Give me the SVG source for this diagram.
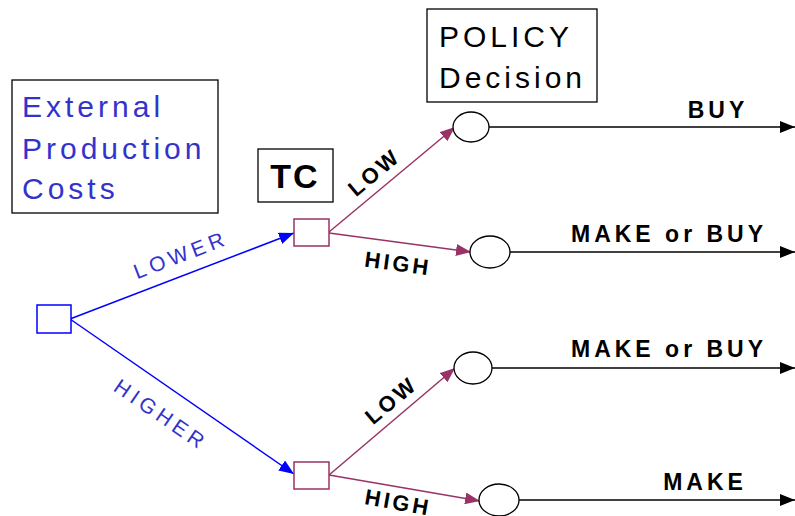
<svg xmlns="http://www.w3.org/2000/svg" width="795" height="516" viewBox="0 0 795 516">
<style>
.box{fill:#fff;stroke:#000;stroke-width:1.3}
.blueT{font-family:"Liberation Sans",Arial,sans-serif;fill:#3333cc;font-size:30px;letter-spacing:4px}
.blackT{font-family:"Liberation Sans",Arial,sans-serif;fill:#000;font-size:30px;letter-spacing:4px}
.blab{font-family:"Liberation Sans",Arial,sans-serif;fill:#3333cc;font-size:21px;letter-spacing:4.5px}
.plab{font-family:"Liberation Sans",Arial,sans-serif;fill:#000;font-size:22px;font-weight:bold;letter-spacing:3px}
.olab{font-family:"Liberation Sans",Arial,sans-serif;fill:#000;font-size:23px;font-weight:bold;letter-spacing:4px}
.bl{stroke:#0000ff;stroke-width:1.5;fill:none}
.pl{stroke:#993366;stroke-width:1.5;fill:none}
.kl{stroke:#000;stroke-width:1.5;fill:none}
.circ{fill:#fff;stroke:#000;stroke-width:1.3}
</style>
<defs>
<marker id="ab" markerUnits="userSpaceOnUse" markerWidth="16" markerHeight="12" refX="15" refY="6" orient="auto"><path d="M0,0 L15,6 L0,12 z" fill="#0000ff"/></marker>
<marker id="ap" markerUnits="userSpaceOnUse" markerWidth="16" markerHeight="12" refX="15" refY="6" orient="auto"><path d="M0,0 L15,6 L0,12 z" fill="#993366"/></marker>
<marker id="ak" markerUnits="userSpaceOnUse" markerWidth="16" markerHeight="12" refX="15" refY="6" orient="auto"><path d="M0,0 L15,6 L0,12 z" fill="#000"/></marker>
</defs>

<g id="label-external">
<rect class="box" x="12" y="80" width="206" height="133"/>
<text class="blueT" x="22" y="117">External</text>
<text class="blueT" x="22" y="159">Production</text>
<text class="blueT" x="22" y="199">Costs</text>
</g>
<g id="label-tc">
<rect class="box" x="258" y="149" width="75" height="53"/>
<text x="295" y="188" text-anchor="middle" style="font-family:'Liberation Sans',Arial,sans-serif;font-size:34px;font-weight:bold;letter-spacing:2px">TC</text>
</g>
<g id="label-policy">
<rect class="box" x="427" y="9" width="170" height="93"/>
<text class="blackT" x="439" y="47">POLICY</text>
<text class="blackT" x="439" y="88">Decision</text>
</g>

<g id="connectors">
<line class="bl" x1="70" y1="319" x2="294" y2="233" marker-end="url(#ab)"/>
<line class="bl" x1="70" y1="319" x2="294" y2="474" marker-end="url(#ab)"/>
<line class="pl" x1="329" y1="232" x2="455" y2="127" marker-end="url(#ap)"/>
<line class="pl" x1="329" y1="233" x2="471" y2="252" marker-end="url(#ap)"/>
<line class="pl" x1="329" y1="475" x2="455" y2="368" marker-end="url(#ap)"/>
<line class="pl" x1="329" y1="475" x2="480" y2="501" marker-end="url(#ap)"/>
<line class="kl" x1="489" y1="127" x2="795" y2="127" marker-end="url(#ak)"/>
<line class="kl" x1="510" y1="252" x2="795" y2="252" marker-end="url(#ak)"/>
<line class="kl" x1="492" y1="368" x2="795" y2="368" marker-end="url(#ak)"/>
<line class="kl" x1="519" y1="500" x2="795" y2="500" marker-end="url(#ak)"/>
<text class="blab" text-anchor="middle" x="181" y="262" transform="rotate(-21 181 255)">LOWER</text>
<text class="blab" text-anchor="middle" x="161" y="422" transform="rotate(34.5 161 415)">HIGHER</text>
<text class="plab" text-anchor="middle" x="374" y="180" transform="rotate(-40 374 172)">LOW</text>
<text class="plab" text-anchor="middle" x="398" y="271" transform="rotate(7.7 398 263)">HIGH</text>
<text class="plab" text-anchor="middle" x="391" y="408" transform="rotate(-40 391 400)">LOW</text>
<text class="plab" text-anchor="middle" x="398" y="510" transform="rotate(10 398 503)">HIGH</text>
<text class="olab" text-anchor="middle" x="718" y="118">BUY</text>
<text class="olab" text-anchor="middle" x="669" y="242">MAKE or BUY</text>
<text class="olab" text-anchor="middle" x="669" y="357">MAKE or BUY</text>
<text class="olab" text-anchor="middle" x="705" y="490">MAKE</text>
</g>

<g id="root">
<rect x="37" y="305" width="34" height="28" fill="#fff" stroke="#0000ff" stroke-width="1.5"/>
</g>
<g id="tc-upper">
<rect x="294" y="219" width="35" height="27" fill="#fff" stroke="#993366" stroke-width="1.5"/>
</g>
<g id="tc-lower">
<rect x="294" y="462" width="35" height="27" fill="#fff" stroke="#993366" stroke-width="1.5"/>
</g>
<g id="policy-1"><ellipse class="circ" cx="471" cy="127" rx="18" ry="15"/></g>
<g id="policy-2"><ellipse class="circ" cx="490" cy="252" rx="20" ry="16"/></g>
<g id="policy-3"><ellipse class="circ" cx="473" cy="368" rx="19" ry="16"/></g>
<g id="policy-4"><ellipse class="circ" cx="499" cy="500" rx="20" ry="16"/></g>
</svg>
